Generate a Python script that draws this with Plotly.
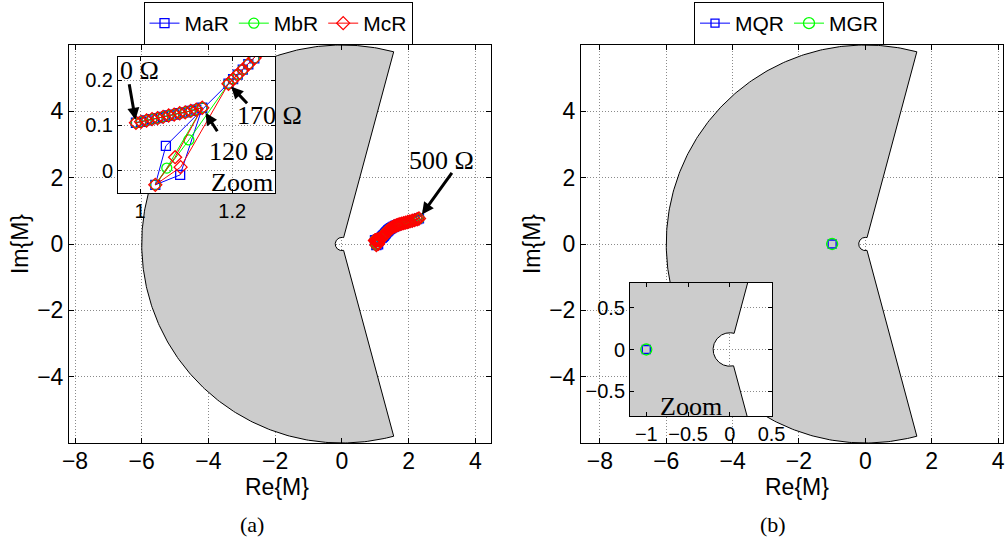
import numpy as np
import plotly.graph_objects as go

# ---------------- data ----------------
# common path 0 .. 120 Ohm
low_re = [0.991, 1.002, 1.014, 1.026, 1.038, 1.050, 1.062, 1.074, 1.086, 1.098, 1.110, 1.122, 1.135]
low_im = [0.106, 0.108, 0.111, 0.114, 0.116, 0.119, 0.122, 0.124, 0.127, 0.129, 0.132, 0.135, 0.139]
# transition points (differ per series)
mar_dip_re = [1.087, 1.033, 1.056]
mar_dip_im = [-0.009, -0.031, 0.055]
mbr_dip_re = [1.058, 1.033, 1.106]
mbr_dip_im = [0.006, -0.031, 0.068]
mcr_dip_re = [1.076, 1.033, 1.088]
mcr_dip_im = [0.030, -0.031, 0.008]
# common path 170 .. 500 Ohm
high_re = [1.192, 1.202, 1.212, 1.223, 1.235, 1.248, 1.262, 1.278, 1.296, 1.316, 1.338,
           1.362, 1.388, 1.416, 1.446, 1.479, 1.515, 1.554, 1.596, 1.641, 1.689, 1.740,
           1.794, 1.851, 1.911, 1.974, 2.040, 2.109, 2.181, 2.256, 2.311]
high_im = [0.192, 0.202, 0.212, 0.223, 0.235, 0.248, 0.264, 0.283, 0.305, 0.330, 0.357,
           0.382, 0.407, 0.432, 0.457, 0.480, 0.501, 0.522, 0.543, 0.562, 0.580, 0.597,
           0.613, 0.628, 0.645, 0.662, 0.680, 0.700, 0.722, 0.747, 0.770]
# panel (b)
mqr_re = [-1.0]
mqr_im = [0.0]
mgr_re = [-1.0]
mgr_im = [0.0]

# forbidden region parameters
region_r = 6.0
notch_r = 0.2
region_angle = 75.0  # deg, half-angle of excluded wedge around +Re

x_ticks_main = [-8, -6, -4, -2, 0, 2, 4]
y_ticks_main = [-4, -2, 0, 2, 4]

# ---------------- helpers ----------------
W, H = 1005, 548
def px(xp):
    return xp / W
def py(yp):
    return 1 - yp / H

th_out = np.deg2rad(np.linspace(region_angle, 360 - region_angle, 300))
th_in = th_out[::-1]
reg_x = np.concatenate([region_r * np.cos(th_out), notch_r * np.cos(th_in), [region_r * np.cos(th_out[0])]])
reg_y = np.concatenate([region_r * np.sin(th_out), notch_r * np.sin(th_in), [region_r * np.sin(th_out[0])]])

series_a = [
    ("MaR", low_re + mar_dip_re + high_re, low_im + mar_dip_im + high_im, "#0000ff", "square-open", 9),
    ("MbR", low_re + mbr_dip_re + high_re, low_im + mbr_dip_im + high_im, "#00ff00", "circle-open", 10),
    ("McR", low_re + mcr_dip_re + high_re, low_im + mcr_dip_im + high_im, "#ff0000", "diamond-open", 10),
]
series_b = [
    ("MQR", mqr_re, mqr_im, "#0000ff", "square-open", 8),
    ("MGR", mgr_re, mgr_im, "#00ff00", "circle-open", 11),
]

fig = go.Figure()

def add_region(xa, ya):
    fig.add_trace(go.Scatter(x=reg_x, y=reg_y, mode="lines", fill="toself",
                             fillcolor="#cccccc", line=dict(color="black", width=1),
                             hoverinfo="skip", showlegend=False, xaxis=xa, yaxis=ya))

def add_series(series, xa, ya, legend, show):
    for name, xs, ys, col, sym, ms in series:
        fig.add_trace(go.Scatter(
            x=xs, y=ys, name=name, mode="lines+markers",
            line=dict(color=col, width=1),
            marker=dict(symbol=sym, size=ms, color=col, line=dict(width=1.3, color=col)),
            showlegend=show, legend=legend, xaxis=xa, yaxis=ya))

add_region("x", "y")
add_series(series_a, "x", "y", "legend", True)
add_region("x2", "y2")
add_series(series_b, "x2", "y2", "legend2", True)
add_series(series_a, "x3", "y3", "legend", False)
add_region("x4", "y4")
add_series(series_b, "x4", "y4", "legend2", False)

sans = "Liberation Sans, Arial"
axis_common = dict(showline=True, linecolor="black", linewidth=1, mirror="ticks",
                   ticks="inside", ticklen=5, tickcolor="black", showgrid=True,
                   gridcolor="#8a8a8a", griddash="1px,2px", gridwidth=1, zeroline=False,
                   tickfont=dict(family=sans, size=23, color="black"),
                   automargin=False)
inset_font = dict(family=sans, size=20, color="black")
title_font = dict(family=sans, size=23, color="black")

ydom = [py(443), py(45)]
fig.update_layout(
    xaxis=dict(axis_common, domain=[px(69), px(491)], range=[-8.18, 4.47], anchor="y",
               tickvals=x_ticks_main, ticklabelstandoff=-3),
    yaxis=dict(axis_common, domain=ydom, range=[-6, 6], anchor="x",
               tickvals=y_ticks_main, title=dict(text="Im{M}", font=title_font, standoff=2)),
    xaxis2=dict(axis_common, domain=[px(581), px(1003)], range=[-8.57, 4.15], anchor="y2",
                tickvals=x_ticks_main, ticklabelstandoff=-3),
    yaxis2=dict(axis_common, domain=ydom, range=[-6, 6], anchor="x2",
                tickvals=y_ticks_main, title=dict(text="Im{M}", font=title_font, standoff=2)),
    xaxis3=dict(axis_common, domain=[px(118), px(275)], range=[0.952, 1.293], anchor="y3",
                tickvals=[1, 1.2], ticklen=4, tickfont=inset_font),
    yaxis3=dict(axis_common, domain=[py(193), py(57)], range=[-0.049, 0.251], anchor="x3",
                tickvals=[0, 0.1, 0.2], ticklen=4, tickfont=inset_font),
    xaxis4=dict(axis_common, domain=[px(630), px(772)], range=[-1.195, 0.505], anchor="y4",
                tickvals=[-1, -0.5, 0, 0.5], ticklen=4, tickfont=inset_font),
    yaxis4=dict(axis_common, domain=[py(416), py(283)], range=[-0.795, 0.795], anchor="x4",
                tickvals=[-0.5, 0, 0.5], ticklen=4, tickfont=inset_font),
)

legend_common = dict(orientation="h", xanchor="center", yanchor="top", y=py(2),
                     bgcolor="white", bordercolor="black", borderwidth=1,
                     font=dict(family=sans, size=21, color="black"),
                     tracegroupgap=0, itemwidth=30)
fig.update_layout(
    legend=dict(legend_common, x=px(278)),
    legend2=dict(legend_common, x=px(789)),
)

serif = dict(family="Liberation Serif, Times New Roman", size=26, color="black")
texts = [
    ("0 Ω", 139, 71), ("120 Ω", 241.5, 151), ("170 Ω", 269.5, 116),
    ("500 Ω", 441, 160), ("Zoom", 242, 183), ("Zoom", 691, 406),
]
annots = []
for t, xp, yp in texts:
    annots.append(dict(text=t, x=px(xp), y=py(yp), xref="paper", yref="paper",
                       xanchor="center", yanchor="middle", showarrow=False, font=serif))
# x-axis titles
for xp in (277, 797):
    annots.append(dict(text="Re{M}", x=px(xp), y=py(487), xref="paper", yref="paper",
                       xanchor="center", yanchor="middle", showarrow=False, font=title_font))
# arrows pointing at data points
arrows = [
    ("x3", "y3", low_re[0], low_im[0], -7, -40, 3),
    ("x3", "y3", low_re[-1], low_im[-1], 16, 25, 6),
    ("x3", "y3", high_re[0], high_im[0], 20, 21, 4),
    ("x", "y", high_re[-1], high_im[-1], 34, -47, 5),
]
for xr, yr, xv, yv, axp, ayp, so in arrows:
    annots.append(dict(text="", x=xv, y=yv, xref=xr, yref=yr, ax=axp, ay=ayp,
                       showarrow=True, arrowhead=2, arrowsize=0.8, arrowwidth=3,
                       arrowcolor="black", standoff=so, font=dict(size=1)))
cap = dict(family="Liberation Serif, Times New Roman", size=22, color="black")
annots.append(dict(text="(a)", x=px(252), y=py(524), xref="paper", yref="paper",
                   showarrow=False, font=cap, xanchor="center", yanchor="middle"))
annots.append(dict(text="(b)", x=px(773), y=py(524), xref="paper", yref="paper",
                   showarrow=False, font=cap, xanchor="center", yanchor="middle"))

fig.update_layout(annotations=annots, width=W, height=H,
                  margin=dict(l=0, r=0, t=0, b=0),
                  paper_bgcolor="white", plot_bgcolor="white")

fig.write_html("out.html")
